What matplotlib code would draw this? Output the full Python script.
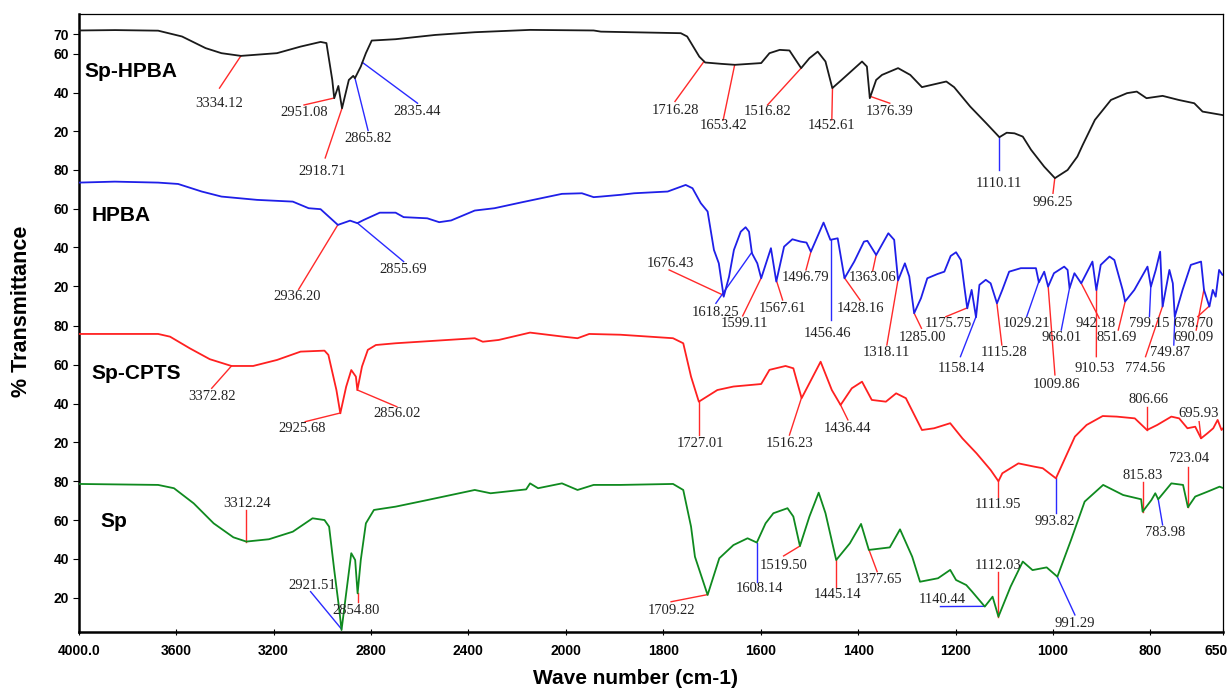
import numpy as np
import matplotlib.pyplot as plt
from matplotlib.transforms import ScaledTranslation

# ---- FTIR spectra: wavenumber (cm-1) and % transmittance ----
sp_hpba_wn = [4000, 3850, 3674, 3576, 3479, 3414, 3334, 3186, 3089, 3007, 2983, 2959, 2951, 2934,
              2919, 2891, 2873, 2866, 2842, 2821, 2797, 2699, 2536, 2374, 2147, 1943, 1928, 1764,
              1751, 1726, 1714, 1681, 1653, 1599, 1582, 1561, 1541, 1517, 1500, 1483, 1467, 1453,
              1434, 1392, 1382, 1376, 1363, 1351, 1318, 1293, 1269, 1219, 1203, 1170, 1137, 1110,
              1095, 1079, 1062, 1045, 1018, 996, 970, 950, 939, 914, 881, 848, 828, 808, 775, 742,
              710, 693, 654, 650]
sp_hpba_t = [72.0, 72.2, 71.9, 68.9, 62.9, 60.3, 58.9, 60.3, 63.7, 66.1, 65.5, 46.5, 37.1, 43.4,
             31.9, 46.5, 48.6, 47.4, 53.4, 60.3, 66.8, 67.5, 69.7, 71.1, 72.3, 72.0, 71.4, 70.6,
             68.9, 58.5, 55.5, 54.8, 54.3, 55.2, 60.3, 62.0, 61.7, 52.6, 57.7, 61.1, 56.0, 42.3,
             46.5, 56.0, 53.4, 37.1, 46.5, 49.1, 52.6, 49.1, 42.8, 45.7, 42.8, 32.8, 24.2, 17.0,
             19.3, 19.0, 17.3, 10.5, 1.8, -4.1, 0.1, 7.0, 13.0, 25.9, 36.2, 39.7, 40.5, 37.1, 38.3,
             36.2, 34.5, 30.2, 28.5, 28.3]

hpba_wn = [4000, 3852, 3674, 3592, 3495, 3414, 3268, 3121, 3056, 3007, 2936, 2886, 2856, 2829,
           2764, 2699, 2666, 2569, 2520, 2471, 2374, 2293, 2179, 2016, 1967, 1943, 1928, 1888,
           1860, 1791, 1754, 1740, 1723, 1709, 1696, 1686, 1676, 1665, 1655, 1641, 1631, 1624,
           1618, 1607, 1599, 1579, 1568, 1552, 1535, 1518, 1506, 1497, 1471, 1457, 1442, 1428,
           1408, 1388, 1381, 1363, 1338, 1326, 1318, 1304, 1295, 1285, 1271, 1258, 1237, 1223,
           1210, 1199, 1189, 1182, 1176, 1167, 1158, 1151, 1138, 1128, 1115, 1104, 1090, 1066,
           1035, 1029, 1018, 1010, 998, 977, 970, 966, 956, 942, 919, 911, 902, 884, 874, 857,
           852, 833, 806, 799, 789, 780, 775, 761, 754, 750, 734, 717, 696, 690, 679, 672, 666,
           659, 652, 650]
hpba_t = [73.4, 73.9, 73.4, 72.7, 68.8, 66.2, 64.5, 63.6, 60.2, 59.7, 51.6, 53.8, 52.5, 54.2,
          57.9, 57.9, 55.6, 55.0, 53.0, 53.9, 59.0, 60.2, 63.3, 67.6, 67.9, 65.9, 66.2, 67.1,
          67.9, 68.8, 72.2, 70.5, 62.8, 58.5, 38.7, 31.8, 14.6, 24.9, 38.7, 48.1, 50.4, 48.1,
          37.0, 31.8, 24.1, 39.6, 22.4, 40.4, 44.2, 43.0, 42.5, 37.8, 52.8, 43.9, 44.7, 24.1,
          32.7, 43.0, 43.4, 36.1, 47.3, 43.9, 23.0, 31.8, 25.0, 6.1, 13.8, 24.1, 26.3, 27.5,
          35.6, 37.5, 33.5, 19.8, 8.6, 18.1, 4.0, 20.7, 23.3, 21.5, 11.2, 18.1, 27.5, 29.3,
          29.3, 22.0, 27.5, 19.8, 26.7, 30.1, 28.4, 19.0, 26.7, 21.5, 32.7, 18.0, 31.0, 35.3,
          33.5, 18.1, 12.1, 18.1, 30.1, 19.8, 28.4, 37.8, 9.5, 28.4, 21.5, 4.3, 18.1, 31.0,
          32.7, 18.1, 9.5, 18.1, 14.6, 28.4, 25.8, 26.0]

sp_cpts_wn = [4000, 3674, 3625, 3544, 3462, 3373, 3284, 3186, 3089, 2991, 2975, 2942, 2926, 2902,
              2881, 2862, 2856, 2837, 2813, 2780, 2699, 2374, 2341, 2276, 2147, 2010, 1976, 1952,
              1888, 1780, 1759, 1743, 1727, 1689, 1656, 1599, 1582, 1549, 1533, 1516, 1477, 1454,
              1436, 1413, 1392, 1372, 1343, 1322, 1302, 1269, 1244, 1211, 1186, 1157, 1128, 1112,
              1104, 1071, 1038, 1021, 994, 955, 931, 898, 869, 832, 807, 786, 757, 741, 724, 708,
              696, 683, 671, 662, 654, 650]
sp_cpts_t = [75.9, 75.9, 74.5, 68.5, 62.9, 59.4, 59.4, 62.5, 66.8, 67.3, 65.1, 47.0, 35.0, 48.7,
             57.3, 53.9, 47.0, 59.1, 67.7, 70.2, 71.1, 73.7, 71.9, 72.8, 76.6, 74.5, 73.7, 75.9,
             75.5, 73.7, 71.1, 53.9, 41.0, 47.0, 48.8, 50.1, 57.4, 59.4, 58.2, 42.8, 61.6, 47.0,
             39.3, 47.9, 51.3, 41.9, 41.0, 45.3, 42.8, 26.4, 27.3, 29.9, 22.1, 14.4, 5.8, 0.0,
             4.1, 9.2, 7.5, 6.7, 1.5, 23.0, 29.0, 33.6, 33.3, 32.4, 26.4, 29.0, 33.3, 32.4, 27.3,
             28.1, 22.1, 24.7, 27.3, 31.6, 26.4, 27.5]

sp_wn = [4000, 3674, 3609, 3528, 3446, 3365, 3312, 3219, 3121, 3040, 2991, 2972, 2951, 2930,
         2921, 2902, 2881, 2865, 2855, 2842, 2821, 2788, 2699, 2569, 2374, 2309, 2163, 2147,
         2114, 2016, 1976, 1943, 1888, 1780, 1759, 1743, 1735, 1709, 1685, 1656, 1627, 1608,
         1590, 1574, 1545, 1533, 1519.5, 1500, 1481, 1467, 1445, 1417, 1394, 1378, 1335, 1314,
         1289, 1273, 1236, 1211, 1199, 1178, 1166, 1140, 1124, 1112, 1087, 1062, 1042, 1013,
         991, 963, 935, 897, 856, 819, 816, 798, 790, 784, 757, 733, 723, 708, 683, 658, 650]
sp_t = [78.6, 78.1, 76.4, 68.6, 58.3, 51.1, 48.9, 50.1, 54.0, 60.9, 60.0, 56.6, 34.3, 13.6,
        3.3, 22.2, 42.9, 39.4, 22.2, 39.4, 58.3, 65.2, 66.9, 70.3, 75.5, 73.8, 75.8, 78.9,
        76.4, 78.9, 75.5, 78.1, 78.1, 78.6, 75.5, 56.6, 41.1, 21.4, 40.3, 47.1, 50.6, 48.4,
        58.3, 63.5, 66.1, 61.8, 46.6, 61.8, 74.1, 63.5, 39.4, 48.0, 58.0, 44.6, 45.9, 55.2,
        41.1, 28.2, 30.0, 34.3, 29.1, 26.5, 23.1, 15.4, 20.5, 10.2, 25.7, 38.6, 34.2, 35.6,
        30.8, 49.7, 69.5, 78.1, 72.9, 70.7, 64.3, 70.3, 73.8, 70.7, 78.9, 78.1, 66.6, 72.1,
        74.6, 77.2, 76.4]

# ---- assigned peaks for each spectrum ----
sp_hpba_peaks = ['3334.12', '2951.08', '2918.71', '2865.82', '2835.44', '1716.28', '1653.42',
                 '1516.82', '1452.61', '1376.39', '1110.11', '996.25']
hpba_peaks = ['2936.20', '2855.69', '1676.43', '1618.25', '1599.11', '1567.61', '1496.79',
              '1456.46', '1428.16', '1363.06', '1318.11', '1285.00', '1175.75', '1158.14',
              '1115.28', '1029.21', '1009.86', '966.01', '942.18', '910.53', '851.69', '799.15',
              '774.56', '749.87', '690.09', '678.70']
sp_cpts_peaks = ['3372.82', '2925.68', '2856.02', '1727.01', '1516.23', '1436.44', '1111.95',
                 '993.82', '806.66', '695.93']
sp_peaks = ['3312.24', '2921.51', '2854.80', '1709.22', '1608.14', '1519.50', '1445.14',
            '1377.65', '1140.44', '1112.03', '991.29', '815.83', '783.98', '723.04']

# leader line layout per peak: colour, line end (wn, %T), label centre (wn, %T)
R, B = '#ff2a2a', '#2a2aff'
sp_hpba_calls = [(R, 3422, 42.3, 3422, 34.2), (R, 3075, 33.6, 3075, 29.8),
                 (R, 2988, 6.3, 3000, -0.9), (B, 2812, 20.4, 2812, 16.5),
                 (B, 2609, 34.5, 2609, 30.2), (R, 1776, 35.4, 1776, 30.7),
                 (R, 1677, 25.9, 1677, 22.8), (R, 1586, 33.6, 1586, 30.2),
                 (R, 1454, 25.9, 1454, 22.8), (R, 1335, 34.5, 1335, 30.2),
                 (B, 1110.11, 0.1, 1110, -6.8), (R, 1000, -11.9, 1000, -16.4)]
hpba_calls = [(R, 3097, 18.4, 3105, 14.6), (B, 2666, 32.7, 2666, 28.4),
              (R, 1788, 28.4, 1785, 31.8), (B, 1692, 11.2, 1692, 6.4),
              (R, 1637, 4.7, 1634, 0.9), (R, 1555, 12.9, 1555, 8.7),
              (R, 1507, 28.4, 1507, 24.6), (B, 1456.46, 2.6, 1462, -4.6),
              (R, 1396, 12.9, 1396, 8.7), (R, 1370, 28.0, 1370, 24.6),
              (R, 1341, -10.3, 1341, -14.2), (R, 1270, -1.7, 1268, -6.3),
              (R, 1220, 4.3, 1215, 0.6), (B, 1190, -16.3, 1189, -22.3),
              (R, 1105, -10.3, 1101, -14.2), (B, 1054, 4.3, 1054, 0.6),
              (R, 996, -25.7, 992, -30.4), (B, 983, -2.6, 982, -6.3),
              (R, 905, 3.5, 912, 0.6), (R, 911, -16.3, 915, -22.3),
              (R, 866, -2.6, 869, -6.3), (B, 802, 4.3, 802, 0.6),
              (R, 810, -16.3, 811, -22.3), (B, 752, -10.3, 759, -14.2),
              (R, 706, -2.6, 711, -6.3), (R, 703, 4.3, 711, 0.6)]
sp_cpts_calls = [(R, 3454, 47.9, 3454, 43.9), (R, 3070, 30.7, 3081, 27.3),
                 (R, 2694, 38.4, 2694, 35.0), (R, 1727.01, 23.8, 1724, 19.6),
                 (R, 1541, 23.8, 1541, 19.6), (R, 1421, 31.6, 1421, 27.3),
                 (R, 1111.95, -8.0, 1112, -12.2), (B, 993.82, -16.5, 996, -20.8),
                 (R, 806.66, 38.4, 803, 42.2), (R, 700, 30.7, 700, 34.7)]
sp_calls = [(R, 3312.24, 65.2, 3308, 68.6), (B, 3048, 23.1, 3040, 26.5),
            (R, 2854.8, 17.9, 2862, 13.6), (R, 1784, 17.9, 1784, 13.6),
            (B, 1608.14, 28.2, 1603, 24.8), (R, 1553, 41.5, 1553, 36.5),
            (R, 1445.14, 25.7, 1442, 21.4), (R, 1361, 33.4, 1359, 29.5),
            (B, 1231, 15.4, 1227, 19.2), (R, 1112.03, 33.4, 1112, 36.5),
            (B, 955, 11.1, 955, 6.8), (R, 815.83, 79.8, 815, 83.2),
            (B, 775, 57.5, 770, 53.5), (R, 723.04, 87.5, 720, 91.8)]

spectra = [
    ('Sp-HPBA', sp_hpba_wn, sp_hpba_t, sp_hpba_peaks, sp_hpba_calls, '#1a1a1a', 238.0, [70, 60, 40, 20], 3975, 50.8),
    ('HPBA', hpba_wn, hpba_t, hpba_peaks, hpba_calls, '#1f1fe8', 158.2, [80, 60, 40, 20], 3945, 56.2),
    ('Sp-CPTS', sp_cpts_wn, sp_cpts_t, sp_cpts_peaks, sp_cpts_calls, '#ff2020', 77.7, [80, 60, 40, 20], 3947, 55.7),
    ('Sp', sp_wn, sp_t, sp_peaks, sp_calls, '#0f8a1f', -2.3, [80, 60, 40, 20], 3909, 59.2),
]


# instrument-style axis: 2000-650 cm-1 is drawn at twice the scale
def fwd(x):
    x = np.asarray(x, float)
    return np.where(x >= 2000, x, 2 * x - 2000)


def inv(y):
    y = np.asarray(y, float)
    return np.where(y >= 2000, y, (y + 2000) / 2)


fig = plt.figure(figsize=(12.3, 6.92), dpi=100)
ax = fig.add_axes([0.064, 0.0867, 0.9307, 0.8931])
ax.set_xscale('function', functions=(fwd, inv))
ax.set_xlim(4000, 650)
ax.set_ylim(0, 318.5)

yt, ytl = [], []
for name, wn, t, peaks, calls, col, off, ticks, nx, ny in spectra:
    wn = np.array(wn, float)
    t = np.array(t, float)
    ax.plot(wn, t + off, color=col, lw=1.3, zorder=3)
    for lab, (c, ex, ey, tx, ty) in zip(peaks, calls):
        p = float(lab)
        y0 = np.interp(p, wn[::-1], t[::-1]) + off
        ax.plot([p, ex], [y0, ey + off], color=c, lw=1.0, zorder=2)
        ax.text(tx, ty + off, lab, ha='center', va='center', fontsize=10.5,
                family='Liberation Serif', color='#222222', zorder=4)
    ax.text(nx, ny + off, name, ha='left', va='center', fontsize=15,
            fontweight='bold', family='Liberation Sans')
    for v in ticks:
        yt.append(v + off)
        ytl.append(str(v))

ax.set_yticks(yt, ytl)
xt = [4000, 3600, 3200, 2800, 2400, 2000, 1800, 1600, 1400, 1200, 1000, 800, 650]
ax.set_xticks(xt, ['4000.0'] + [str(v) for v in xt[1:]])
ax.minorticks_off()

for lbl in ax.get_xticklabels() + ax.get_yticklabels():
    lbl.set_family('Liberation Sans')
    lbl.set_fontweight('bold')
    lbl.set_fontsize(10)
ax.tick_params(axis='x', direction='inout', length=5, pad=6)
ax.tick_params(axis='y', direction='out', length=4, pad=3)

# last tick label sits tight against the right frame
last = ax.get_xticklabels()[-1]
last.set_transform(last.get_transform() + ScaledTranslation(-0.07, 0, fig.dpi_scale_trans))

ax.spines['left'].set_linewidth(1.8)
ax.spines['bottom'].set_linewidth(1.8)
ax.spines['top'].set_linewidth(0.9)
ax.spines['right'].set_linewidth(0.9)

fig.text(0.0171, 0.55, '% Transmittance', rotation=90, ha='center', va='center',
         fontsize=15.5, fontweight='bold', family='Liberation Sans')
fig.text(0.5167, 0.0188, 'Wave number (cm-1)', ha='center', va='center',
         fontsize=15, fontweight='bold', family='Liberation Sans')

fig.savefig('out.png', dpi=100)
